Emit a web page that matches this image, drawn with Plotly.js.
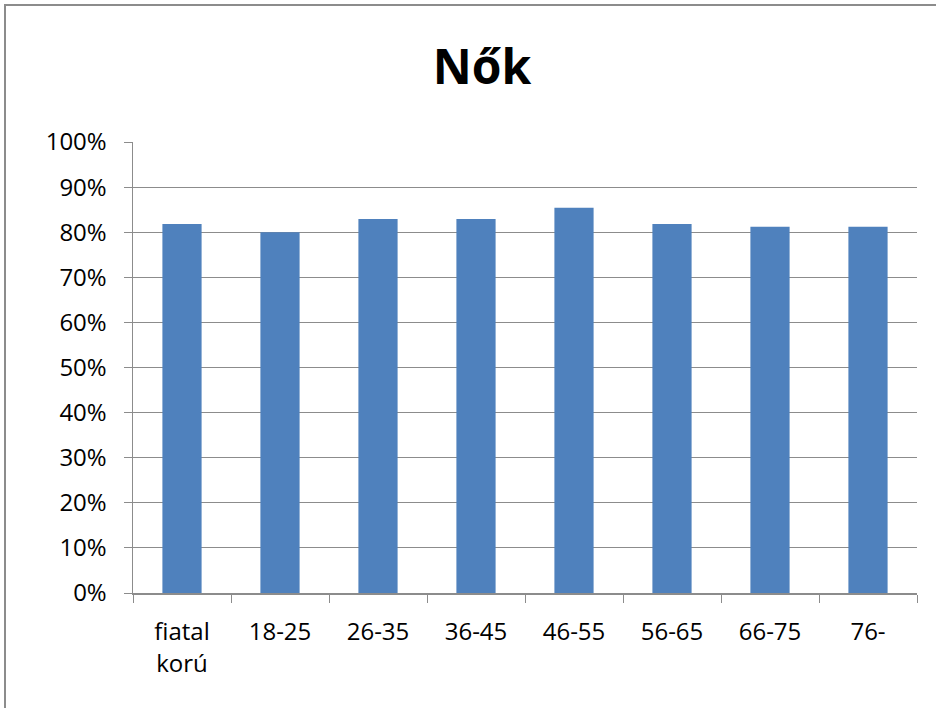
<!DOCTYPE html>
<html><head><meta charset="utf-8">
<script src="https://cdn.plot.ly/plotly-3.0.1.min.js"></script>
<style>
html,body{margin:0;padding:0;background:#fff;overflow:hidden;}
#frame{position:absolute;left:4px;top:4px;width:940px;height:710px;border:2px solid #8c8c8c;box-sizing:border-box;}
#chart{position:absolute;left:0;top:0;width:936px;height:708px;}
</style></head>
<body>
<div id="frame"></div>
<div id="chart"></div>
<script>
const categories = ["fiatal<br>korú","18-25","26-35","36-45","46-55","56-65","66-75","76-"];
const values = [0.818, 0.800, 0.829, 0.829, 0.854, 0.818, 0.812, 0.812];
const yTickVals = [0,0.1,0.2,0.3,0.4,0.5,0.6,0.7,0.8,0.9,1.0];
const yTickText = ["0%","10%","20%","30%","40%","50%","60%","70%","80%","90%","100%"];
const titleText = "Nők";

const fontFam = "'Open Sans', sans-serif";
Plotly.newPlot('chart', [{
  type:'bar', x:categories, y:values,
  marker:{color:'#4f81bd', line:{width:0}},
  hoverinfo:'skip'
}], {
  width:936, height:708,
  paper_bgcolor:'rgba(0,0,0,0)', plot_bgcolor:'#fff',
  margin:{l:133,r:19,t:142,b:115},
  bargap:0.6,
  title:{text:'<b>'+titleText+'</b>', x:0.515, xanchor:'center', y:0.905, yanchor:'middle', font:{family:fontFam, size:48, color:'#000'}},
  xaxis:{type:'category', tickson:'boundaries', ticks:'outside', ticklen:8, tickcolor:'#8c8c8c',
    showline:true, linecolor:'#8c8c8c', linewidth:1.5, showgrid:false,
    tickfont:{family:fontFam, size:24, color:'#000'}, ticklabelstandoff:17},
  yaxis:{range:[0,1], tickvals:yTickVals, ticktext:yTickText, ticks:'outside', ticklen:8, tickcolor:'#8c8c8c',
    showline:true, linecolor:'#8c8c8c', linewidth:1.5, gridcolor:'#8c8c8c', gridwidth:1, zeroline:false,
    tickfont:{family:fontFam, size:24, color:'#000'}, ticklabelstandoff:12},
  showlegend:false
}, {displayModeBar:false, staticPlot:true});
</script>
</body></html>
